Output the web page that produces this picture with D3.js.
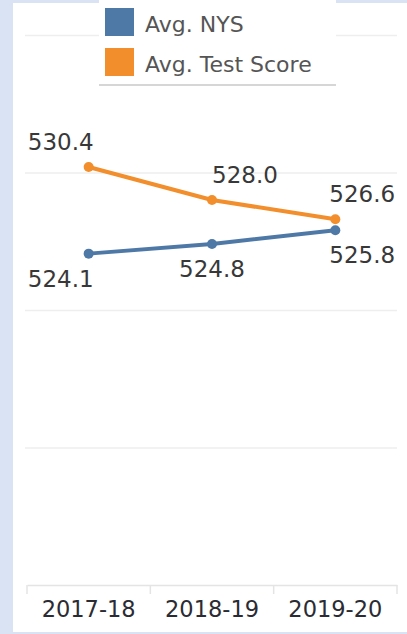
<!DOCTYPE html>
<html>
<head>
<meta charset="utf-8">
<script src="https://cdn.jsdelivr.net/npm/d3@7/dist/d3.min.js"></script>
<style>
  html, body { margin: 0; padding: 0; background: #dae3f3; }
  svg { display: block; }
</style>
</head>
<body>
<svg id="chart" width="407" height="634"></svg>
<script>
const categories = ["2017-18", "2018-19", "2019-20"];
const seriesNames = ["Avg. NYS", "Avg. Test Score"];
const nysValues = [524.1, 524.8, 525.8];
const testValues = [530.4, 528.0, 526.6];
const yTicks = [500, 510, 520, 530, 540];
const colors = ["#4e79a7", "#f28e2b"];

(function () {
const svg = d3.select("#chart");
const W = 407, H = 634;
const font = "'DejaVu Sans', Verdana, sans-serif";

// background panels
svg.append("rect").attr("x", 0).attr("y", 0).attr("width", W).attr("height", H).attr("fill", "#dae3f3");
svg.append("rect").attr("x", 13).attr("y", 3).attr("width", W - 13).attr("height", 629).attr("fill", "#ffffff");

const pLeft = 27, pRight = 397, pTop = 35, pBottom = 585;
const x = d3.scaleBand().domain(categories).range([pLeft, pRight]).padding(0);
const y = d3.scaleLinear().domain([500, 540]).range([pBottom, pTop]);

// gridlines
const grid = svg.append("g").attr("transform", `translate(${pLeft},0)`)
  .call(d3.axisLeft(y).tickValues(yTicks.filter(t => t !== 500)).tickSize(-(pRight - pLeft + 2)).tickFormat(""));
grid.select(".domain").remove();
grid.selectAll(".tick line").attr("stroke", "#eeeeee").attr("stroke-width", 1.6).attr("transform", "translate(-2,0)");

// x axis
const xAxis = svg.append("g").attr("transform", `translate(0,${pBottom})`)
  .call(d3.axisBottom(x).tickSize(0).tickPadding(16.5));
xAxis.select(".domain").attr("stroke", "#e4e4e4").attr("stroke-width", 1.5);
xAxis.selectAll(".tick text").attr("font-family", font).attr("font-size", 22.5).attr("fill", "#2b2b33");
// band dividers
const edges = categories.map(c => x(c)).concat([x(categories[categories.length - 1]) + x.bandwidth()]);
svg.append("g").selectAll("line").data(edges).join("line")
  .attr("x1", d => d).attr("x2", d => d).attr("y1", pBottom).attr("y2", pBottom + 9)
  .attr("stroke", "#e4e4e4").attr("stroke-width", 1.5);

// series
const series = [
  { name: seriesNames[0], values: nysValues, color: colors[0], below: true },
  { name: seriesNames[1], values: testValues, color: colors[1], below: false }
];
const line = d3.line().x((d, i) => x(categories[i]) + x.bandwidth() / 2).y(d => y(d));

series.forEach(s => {
  svg.append("path").datum(s.values).attr("d", line)
    .attr("fill", "none").attr("stroke", s.color).attr("stroke-width", 4).attr("stroke-linejoin", "round");
  svg.append("g").selectAll("circle").data(s.values).join("circle")
    .attr("cx", (d, i) => x(categories[i]) + x.bandwidth() / 2)
    .attr("cy", d => y(d)).attr("r", 5).attr("fill", s.color);
});

// data labels
function labelAnchor(i, below) {
  if (i === 0) return { anchor: "end", dx: 5 };
  if (i === 1) return below ? { anchor: "middle", dx: 0 } : { anchor: "start", dx: 0 };
  return { anchor: "start", dx: -6 };
}
series.forEach(s => {
  svg.append("g").selectAll("text").data(s.values).join("text")
    .each(function (d, i) {
      const a = labelAnchor(i, s.below);
      d3.select(this)
        .attr("x", x(categories[i]) + x.bandwidth() / 2 + a.dx)
        .attr("y", y(d) + (s.below ? 33 : -17))
        .attr("text-anchor", a.anchor);
    })
    .attr("font-family", font).attr("font-size", 23).attr("fill", "#383838")
    .text(d => d.toFixed(1));
});

// legend
const lg = svg.append("g");
lg.append("rect").attr("x", 99).attr("y", 0).attr("width", 237).attr("height", 85).attr("fill", "#ffffff");
lg.append("line").attr("x1", 99).attr("x2", 336).attr("y1", 85).attr("y2", 85)
  .attr("stroke", "#c8c8c8").attr("stroke-width", 1.5);
seriesNames.forEach((n, i) => {
  lg.append("rect").attr("x", 105).attr("y", 8 + i * 40).attr("width", 29).attr("height", 28)
    .attr("fill", colors[i]);
  lg.append("text").attr("x", 145).attr("y", 32 + i * 40)
    .attr("font-family", font).attr("font-size", 22).attr("fill", "#555555").text(n);
});
})();
</script>
</body>
</html>
